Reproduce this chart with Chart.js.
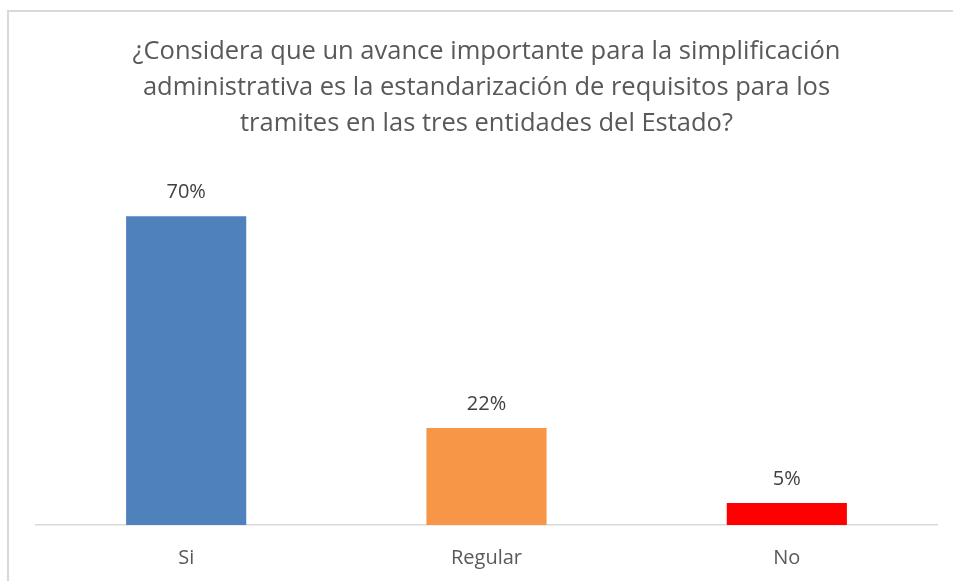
<!DOCTYPE html>
<html>
<head>
<meta charset="utf-8">
<script src="https://cdn.jsdelivr.net/npm/chart.js@4/dist/chart.umd.min.js"></script>
<style>
html,body{margin:0;padding:0;background:#fff;overflow:hidden;}
#box{position:absolute;left:7px;top:10px;width:980px;height:620px;border:2px solid #d9d9d9;box-sizing:border-box;}
#wrap{position:absolute;left:0;top:0;width:953px;height:581px;overflow:hidden;}
</style>
</head>
<body>
<div id="box"></div>
<div id="wrap"><canvas id="c" width="953" height="605"></canvas></div>
<script>
const categories = ["Si", "Regular", "No"];
const values = [70, 22, 5];
const barColors = ["#4F81BD", "#F79646", "#FF0000"];
const titleLines = [
  "¿Considera que un avance importante para la simplificación",
  "administrativa es la estandarización de requisitos para los",
  "tramites en las tres entidades del Estado?"
];

const valueLabels = {
  id: 'valueLabels',
  afterDatasetsDraw(chart) {
    const ctx = chart.ctx;
    const meta = chart.getDatasetMeta(0);
    ctx.save();
    ctx.font = '20px "Open Sans"';
    ctx.fillStyle = '#404040';
    ctx.textAlign = 'center';
    ctx.textBaseline = 'middle';
    meta.data.forEach((bar, i) => {
      ctx.fillText(values[i] + '%', bar.x, bar.y - 24);
    });
    ctx.restore();
  }
};

new Chart(document.getElementById('c'), {
  type: 'bar',
  data: {
    labels: categories,
    datasets: [{
      data: values,
      backgroundColor: barColors,
      borderWidth: 0,
      barPercentage: 0.4,
      categoryPercentage: 1.0
    }]
  },
  options: {
    responsive: false,
    animation: false,
    layout: { padding: { left: 36, right: 16, top: 0, bottom: 14 } },
    plugins: {
      legend: { display: false },
      tooltip: { enabled: false },
      title: {
        display: true,
        text: titleLines,
        color: '#595959',
        font: { family: 'Open Sans', size: 25.5, weight: 'normal', lineHeight: 1.4 },
        padding: { top: 34, bottom: 31 }
      }
    },
    scales: {
      x: {
        grid: { display: false, drawTicks: false },
        border: { display: true, color: '#d9d9d9', width: 1.5 },
        ticks: { color: '#595959', font: { family: 'Open Sans', size: 20 }, padding: 21 }
      },
      y: {
        display: false,
        min: 0,
        max: 80
      }
    }
  },
  plugins: [valueLabels]
});
</script>
</body>
</html>
